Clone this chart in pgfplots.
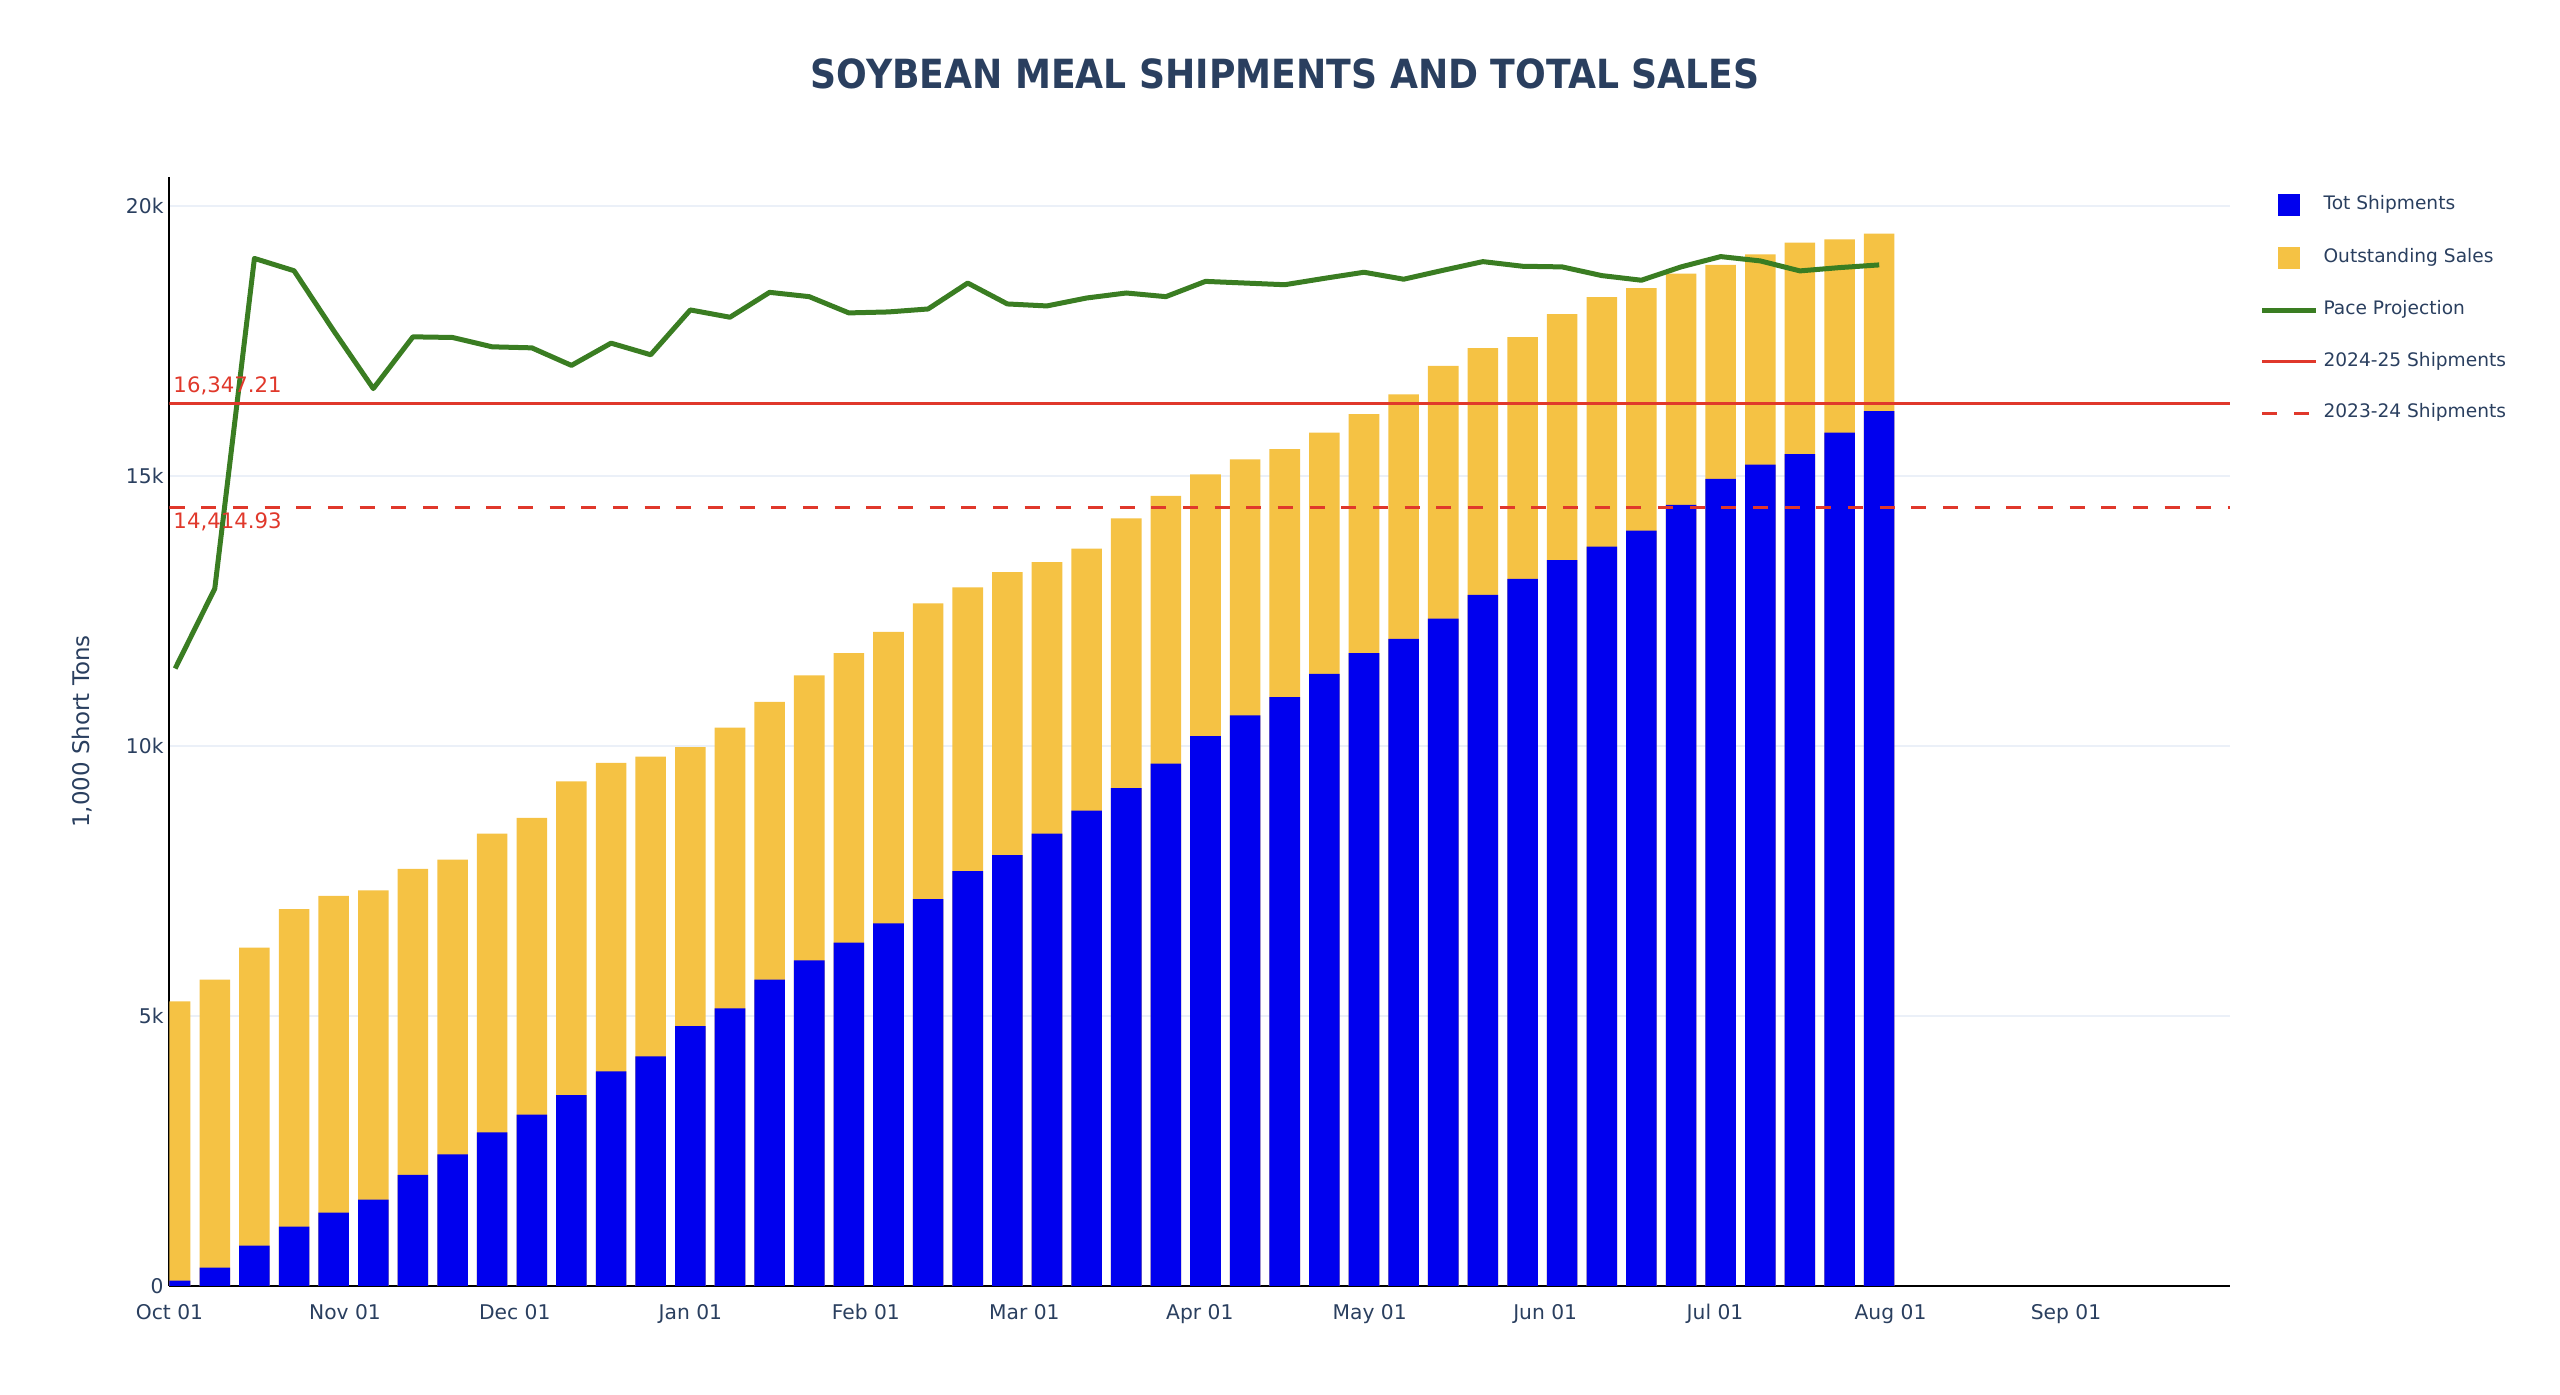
\documentclass[border=0pt]{standalone}
\usepackage{pgfplots}
\pgfplotsset{compat=1.18}
\usepackage{pgfplotstable}
\usepackage{fontspec}
\setmainfont{DejaVu Sans}
\definecolor{shipblue}{HTML}{0000EE}
\definecolor{salesorange}{HTML}{F5C244}
\definecolor{pacegreen}{HTML}{3A7D22}
\definecolor{refred}{HTML}{E0382B}
\definecolor{txt}{HTML}{2A3F5F}
\definecolor{gridc}{HTML}{EBF0F8}

% day (days after Oct 01), total shipments, total sales (shipments + outstanding), pace projection
\pgfplotstableread{
day ship total pace
1 100 5273 11434
8 338 5673 12915
15 746 6265 19029
22 1099 6980 18801
29 1361 7226 17690
36 1599 7326 16619
43 2060 7725 17577
50 2437 7895 17565
57 2844 8379 17392
64 3175 8671 17373
71 3536 9347 17048
78 3974 9686 17460
85 4251 9801 17245
92 4812 9978 18075
99 5143 10339 17940
106 5673 10816 18401
113 6030 11309 18321
120 6360 11721 18020
127 6714 12112 18038
134 7162 12639 18093
141 7681 12937 18573
148 7980 13222 18186
155 8378 13407 18149
162 8805 13656 18296
169 9218 14217 18389
176 9673 14630 18321
183 10185 15028 18604
190 10569 15306 18573
197 10903 15498 18542
204 11337 15805 18660
211 11720 16147 18773
218 11985 16510 18644
225 12361 17041 18810
232 12799 17367 18970
239 13095 17571 18884
246 13440 17996 18872
253 13693 18311 18711
260 13989 18477 18625
267 14464 18748 18872
274 14945 18909 19063
281 15210 19106 18983
288 15407 19322 18798
295 15801 19383 18859
302 16202 19488 18909
}\datatab

\begin{document}
\begin{tikzpicture}
\path[use as bounding box] (0,0) rectangle (768bp,418.5bp);
\begin{axis}[
  at={(50.85bp,32.7bp)}, anchor=south west,
  scale only axis, width=618.2bp, height=332.7bp,
  xmin=0, xmax=364, ymin=0, ymax=20537,
  axis x line*=bottom, axis y line*=left,
  axis line style={black, line width=0.6bp, -},
  major tick length=0pt,
  scaled y ticks=false,
  xtick={0,31,61,92,123,151,182,212,243,273,304,335},
  xticklabels={Oct 01,Nov 01,Dec 01,Jan 01,Feb 01,Mar 01,Apr 01,May 01,Jun 01,Jul 01,Aug 01,Sep 01},
  ytick={0,5000,10000,15000,20000},
  yticklabels={0,5k,10k,15k,20k},
  ymajorgrids,
  grid style={gridc, line width=0.5bp},
  tick label style={font=\fontsize{6.1}{7}\selectfont, text=txt, inner sep=0pt},
  xticklabel style={anchor=north, yshift=-5.2bp},
  yticklabel style={anchor=east, xshift=-1.6bp},
  ylabel={1,000 Short Tons},
  ylabel style={at={(axis description cs:-0.0425,0.5)}, anchor=center, font=\fontsize{6.9}{8}\selectfont, text=txt},
  title={\scalebox{0.9}[1]{\bfseries SOYBEAN MEAL SHIPMENTS AND TOTAL SALES}},
  every axis title/.style={at={(axis description cs:0.5414,1.0929)}, anchor=center, font=\fontsize{12.1}{14}\selectfont, text=txt, inner sep=0pt},
  legend style={at={(rel axis cs:1.0141,0.9856)}, anchor=north west, draw=none, fill=none,
    font=\fontsize{5.6}{6.5}\selectfont, text=txt, inner sep=0pt, row sep=9.2bp,
    nodes={inner sep=0pt, text height=4.5bp, text depth=1.8bp},
    /tikz/every odd column/.append style={column sep=1.6bp}},
  legend cell align=left,
]
% legend entries
\addlegendimage{legend image code/.code={\fill[shipblue] (4.85bp,-3.15bp) rectangle (11.15bp,3.15bp);}}
\addlegendentry{Tot Shipments}
\addlegendimage{legend image code/.code={\fill[salesorange] (4.85bp,-3.15bp) rectangle (11.15bp,3.15bp);}}
\addlegendentry{Outstanding Sales}
\addlegendimage{legend image code/.code={\draw[pacegreen, line width=1.5bp] (0bp,0bp) -- (16bp,0bp);}}
\addlegendentry{Pace Projection}
\addlegendimage{legend image code/.code={\draw[refred, line width=1bp] (0bp,0bp) -- (16bp,0bp);}}
\addlegendentry{2024-25 Shipments}
\addlegendimage{legend image code/.code={\draw[refred, line width=1bp, dash pattern=on 4.5bp off 5bp] (0bp,0bp) -- (16bp,0bp);}}
\addlegendentry{2023-24 Shipments}

% bars: total sales (orange, shipments + outstanding) with shipments (blue) on top
\addplot[ybar, bar width=5.4, bar shift=0pt, fill=salesorange, draw=none, forget plot] table[x=day, y=total] {\datatab};
\addplot[ybar, bar width=5.4, bar shift=0pt, fill=shipblue, draw=none, forget plot] table[x=day, y=ship] {\datatab};

% pace projection
\addplot[pacegreen, line width=1.5bp, line join=round, forget plot] table[x=day, y=pace] {\datatab};

% reference lines
\addplot[refred, line width=1bp, forget plot] coordinates {(0,16347.21) (364,16347.21)};
\addplot[refred, line width=1bp, dash pattern=on 4.5bp off 5bp, forget plot] coordinates {(0,14414.93) (364,14414.93)};

\node[anchor=south west, text=refred, font=\fontsize{6.4}{7.5}\selectfont, inner sep=0pt, xshift=1.0bp, yshift=2.2bp] at (axis cs:0,16347.21) {16,347.21};
\node[anchor=north west, text=refred, font=\fontsize{6.4}{7.5}\selectfont, inner sep=0pt, xshift=1.0bp, yshift=-1.3bp] at (axis cs:0,14414.93) {14,414.93};
\end{axis}
\end{tikzpicture}
\end{document}
